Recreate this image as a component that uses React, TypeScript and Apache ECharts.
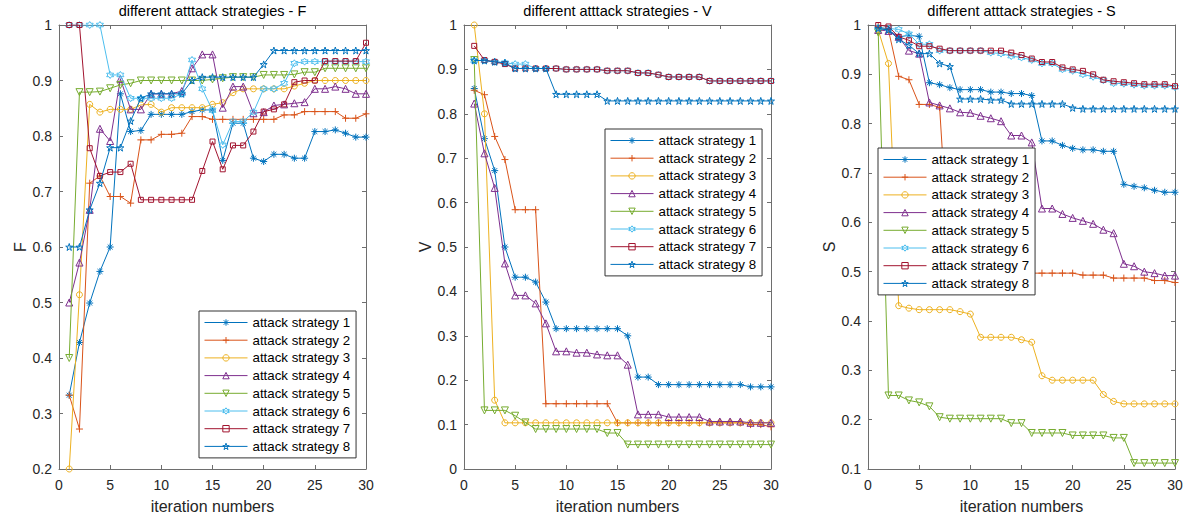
import React, { useEffect, useRef } from "react";
import * as echarts from "echarts";

const ITER = [1, 2, 3, 4, 5, 6, 7, 8, 9, 10, 11, 12, 13, 14, 15, 16, 17, 18, 19, 20, 21, 22, 23, 24, 25, 26, 27, 28, 29, 30];
const NAMES = ["attack strategy 1", "attack strategy 2", "attack strategy 3", "attack strategy 4", "attack strategy 5", "attack strategy 6", "attack strategy 7", "attack strategy 8"];
const COLORS = ["#0072BD", "#D95319", "#EDB120", "#7E2F8E", "#77AC30", "#4DBEEE", "#A2142F", "#0072BD"];
const X_TICKS = [0, 5, 10, 15, 20, 25, 30];
const TITLES = ["different atttack strategies - F", "different atttack strategies - V", "different atttack strategies - S"];
const Y_NAMES = ["F", "V", "S"];
const Y_MINS = [0.2, 0, 0.1];

// Panel F
const F1 = [0.333, 0.428, 0.499, 0.556, 0.6, 0.876, 0.808, 0.81, 0.839, 0.839, 0.839, 0.839, 0.844, 0.847, 0.847, 0.756, 0.823, 0.823, 0.76, 0.754, 0.767, 0.767, 0.76, 0.76, 0.808, 0.808, 0.811, 0.805, 0.798, 0.798];
const F2 = [0.333, 0.272, 0.715, 0.728, 0.691, 0.691, 0.679, 0.793, 0.793, 0.803, 0.803, 0.805, 0.835, 0.835, 0.83, 0.83, 0.83, 0.83, 0.83, 0.83, 0.83, 0.838, 0.838, 0.844, 0.844, 0.844, 0.844, 0.832, 0.832, 0.84];
const F3 = [0.2, 0.514, 0.857, 0.843, 0.848, 0.848, 0.848, 0.856, 0.857, 0.843, 0.851, 0.851, 0.851, 0.851, 0.857, 0.86, 0.878, 0.885, 0.885, 0.885, 0.885, 0.885, 0.89, 0.895, 0.9, 0.9, 0.9, 0.9, 0.9, 0.9];
const F4 = [0.5, 0.572, 0.667, 0.813, 0.791, 0.903, 0.848, 0.848, 0.876, 0.876, 0.876, 0.881, 0.922, 0.947, 0.947, 0.851, 0.889, 0.889, 0.841, 0.843, 0.855, 0.857, 0.859, 0.861, 0.885, 0.885, 0.889, 0.885, 0.876, 0.876];
const F5 = [0.4, 0.879, 0.879, 0.88, 0.886, 0.892, 0.895, 0.9, 0.9, 0.9, 0.9, 0.9, 0.9, 0.9, 0.902, 0.904, 0.906, 0.906, 0.906, 0.91, 0.91, 0.91, 0.911, 0.915, 0.915, 0.922, 0.922, 0.922, 0.922, 0.922];
const F6 = [1, 1, 1, 1, 0.91, 0.91, 0.868, 0.868, 0.868, 0.868, 0.868, 0.876, 0.937, 0.885, 0.846, 0.784, 0.826, 0.826, 0.843, 0.885, 0.885, 0.895, 0.931, 0.934, 0.934, 0.934, 0.934, 0.934, 0.934, 0.934];
const F7 = [1, 1, 0.778, 0.728, 0.735, 0.735, 0.75, 0.685, 0.685, 0.685, 0.685, 0.685, 0.685, 0.737, 0.79, 0.74, 0.783, 0.783, 0.808, 0.844, 0.848, 0.857, 0.897, 0.9, 0.9, 0.935, 0.935, 0.935, 0.935, 0.968];
const F8 = [0.6, 0.6, 0.667, 0.715, 0.779, 0.779, 0.827, 0.868, 0.876, 0.876, 0.876, 0.876, 0.9, 0.906, 0.906, 0.906, 0.906, 0.906, 0.906, 0.929, 0.954, 0.954, 0.954, 0.954, 0.954, 0.954, 0.954, 0.954, 0.954, 0.954];

// Panel V
const V1 = [0.857, 0.744, 0.672, 0.5, 0.432, 0.432, 0.421, 0.376, 0.316, 0.316, 0.316, 0.316, 0.316, 0.316, 0.316, 0.3, 0.207, 0.207, 0.19, 0.19, 0.19, 0.19, 0.19, 0.19, 0.19, 0.19, 0.19, 0.185, 0.185, 0.185];
const V2 = [0.853, 0.843, 0.749, 0.697, 0.584, 0.584, 0.584, 0.147, 0.147, 0.147, 0.147, 0.147, 0.147, 0.147, 0.104, 0.104, 0.104, 0.104, 0.104, 0.104, 0.104, 0.104, 0.104, 0.104, 0.104, 0.104, 0.104, 0.1, 0.1, 0.095];
const V3 = [1, 0.8, 0.155, 0.104, 0.104, 0.104, 0.104, 0.104, 0.104, 0.104, 0.104, 0.104, 0.104, 0.104, 0.104, 0.104, 0.104, 0.104, 0.104, 0.104, 0.104, 0.104, 0.104, 0.104, 0.104, 0.104, 0.104, 0.104, 0.104, 0.104];
const V4 = [0.823, 0.711, 0.633, 0.463, 0.391, 0.391, 0.373, 0.328, 0.265, 0.265, 0.262, 0.262, 0.258, 0.256, 0.256, 0.235, 0.123, 0.123, 0.123, 0.117, 0.117, 0.117, 0.117, 0.107, 0.107, 0.107, 0.107, 0.104, 0.104, 0.104];
const V5 = [0.921, 0.132, 0.132, 0.132, 0.12, 0.105, 0.09, 0.09, 0.09, 0.09, 0.09, 0.09, 0.09, 0.081, 0.081, 0.055, 0.055, 0.055, 0.055, 0.055, 0.055, 0.055, 0.055, 0.055, 0.055, 0.055, 0.055, 0.055, 0.055, 0.055];
const V6 = [0.92, 0.92, 0.917, 0.915, 0.912, 0.912, 0.902, 0.902, 0.902, 0.9, 0.9, 0.9, 0.9, 0.897, 0.897, 0.897, 0.892, 0.892, 0.888, 0.883, 0.883, 0.883, 0.883, 0.874, 0.874, 0.874, 0.874, 0.874, 0.874, 0.874];
const V7 = [0.953, 0.921, 0.917, 0.912, 0.902, 0.902, 0.902, 0.902, 0.902, 0.9, 0.9, 0.9, 0.9, 0.897, 0.897, 0.897, 0.892, 0.892, 0.888, 0.883, 0.883, 0.883, 0.883, 0.874, 0.874, 0.874, 0.874, 0.874, 0.874, 0.874];
const V8 = [0.92, 0.92, 0.917, 0.915, 0.902, 0.902, 0.902, 0.902, 0.844, 0.844, 0.844, 0.844, 0.844, 0.829, 0.829, 0.829, 0.829, 0.829, 0.829, 0.829, 0.829, 0.829, 0.829, 0.829, 0.829, 0.829, 0.829, 0.829, 0.829, 0.829];

// Panel S
const S1 = [0.993, 0.99, 0.976, 0.979, 0.977, 0.883, 0.879, 0.873, 0.869, 0.869, 0.869, 0.864, 0.864, 0.861, 0.861, 0.857, 0.765, 0.765, 0.756, 0.75, 0.747, 0.747, 0.744, 0.744, 0.677, 0.673, 0.67, 0.665, 0.661, 0.661];
const S2 = [0.997, 0.99, 0.896, 0.889, 0.839, 0.839, 0.833, 0.497, 0.497, 0.497, 0.497, 0.497, 0.497, 0.497, 0.497, 0.497, 0.497, 0.497, 0.497, 0.497, 0.493, 0.493, 0.493, 0.487, 0.487, 0.487, 0.487, 0.482, 0.482, 0.478];
const S3 = [0.99, 0.922, 0.431, 0.426, 0.423, 0.423, 0.423, 0.423, 0.419, 0.414, 0.367, 0.367, 0.367, 0.367, 0.362, 0.357, 0.289, 0.28, 0.28, 0.28, 0.28, 0.28, 0.251, 0.237, 0.232, 0.232, 0.232, 0.232, 0.232, 0.232];
const S4 = [0.99, 0.988, 0.976, 0.948, 0.942, 0.843, 0.837, 0.831, 0.823, 0.822, 0.816, 0.811, 0.805, 0.776, 0.776, 0.762, 0.628, 0.628, 0.617, 0.609, 0.603, 0.597, 0.585, 0.578, 0.516, 0.511, 0.5, 0.497, 0.492, 0.492];
const S5 = [0.985, 0.249, 0.249, 0.239, 0.235, 0.227, 0.205, 0.202, 0.202, 0.202, 0.202, 0.202, 0.202, 0.193, 0.193, 0.173, 0.173, 0.173, 0.173, 0.168, 0.168, 0.168, 0.168, 0.163, 0.163, 0.112, 0.112, 0.112, 0.112, 0.112];
const S6 = [0.995, 0.993, 0.991, 0.982, 0.961, 0.961, 0.948, 0.948, 0.948, 0.948, 0.948, 0.944, 0.942, 0.937, 0.934, 0.929, 0.922, 0.922, 0.91, 0.907, 0.9, 0.895, 0.888, 0.882, 0.881, 0.879, 0.877, 0.877, 0.877, 0.874];
const S7 = [1, 0.997, 0.976, 0.969, 0.957, 0.957, 0.952, 0.948, 0.948, 0.948, 0.948, 0.948, 0.948, 0.944, 0.939, 0.932, 0.925, 0.925, 0.914, 0.91, 0.907, 0.9, 0.889, 0.886, 0.884, 0.882, 0.88, 0.88, 0.88, 0.876];
const S8 = [0.993, 0.99, 0.971, 0.959, 0.942, 0.942, 0.922, 0.916, 0.85, 0.85, 0.85, 0.848, 0.848, 0.84, 0.84, 0.84, 0.84, 0.84, 0.84, 0.832, 0.83, 0.83, 0.83, 0.83, 0.83, 0.83, 0.83, 0.83, 0.83, 0.83];

const PANEL_DATA = [
  [F1, F2, F3, F4, F5, F6, F7, F8],
  [V1, V2, V3, V4, V5, V6, V7, V8],
  [S1, S2, S3, S4, S5, S6, S7, S8],
];

// layout (pixels)
const GRID_LEFT = [59, 464, 868];
const GRID_W = 307;
const GRID_TOP = 25;
const GRID_H = 444;
const LEGEND_POS = [
  { left: 199, top: 311 },
  { left: 605, top: 129 },
  { left: 878, top: 148 },
];

const SYMBOLS = [
  "path://M5,0L5,10M0,5L10,5M1.5,1.5L8.5,8.5M8.5,1.5L1.5,8.5",
  "path://M5,0L5,10M0,5L10,5",
  "circle",
  "triangle",
  "path://M0,0L10,0L5,10Z",
  "path://M5,0L6.443,2.5L9.33,2.5L7.887,5L9.33,7.5L6.443,7.5L5,10L3.557,7.5L0.67,7.5L2.113,5L0.67,2.5L3.557,2.5Z",
  "rect",
  "path://M5,0L6.123,3.455L9.755,3.455L6.817,5.59L7.939,9.045L5,6.91L2.061,9.045L3.183,5.59L0.245,3.455L3.877,3.455Z",
];
const SYMBOL_SIZES = [7, 7, 6, 7, 7, 7, 5, 7];

const FONT = "Liberation Sans, Arial, Helvetica, sans-serif";
const AXIS_COLOR = "#6e6e6e";
const TEXT_COLOR = "#262626";

export default function App() {
  const ref = useRef<HTMLDivElement>(null);

  useEffect(() => {
    if (!ref.current) return;
    const chart = echarts.init(ref.current, undefined, { renderer: "svg" });

    const grids: any[] = [];
    const xAxes: any[] = [];
    const yAxes: any[] = [];
    const series: any[] = [];
    const legends: any[] = [];
    const graphics: any[] = [];

    PANEL_DATA.forEach((panel, p) => {
      grids.push({ left: GRID_LEFT[p], top: GRID_TOP, width: GRID_W, height: GRID_H, containLabel: false });
      const common = {
        gridIndex: p,
        type: "value",
        axisLine: { show: true, onZero: false, lineStyle: { color: AXIS_COLOR, width: 1 } },
        axisTick: { show: true, inside: true, length: 4, lineStyle: { color: AXIS_COLOR, width: 1 } },
        splitLine: { show: false },
      };
      const xBottomIndex = xAxes.length;
      xAxes.push({
        ...common,
        position: "bottom",
        min: X_TICKS[0],
        max: X_TICKS[X_TICKS.length - 1],
        interval: 5,
        axisLabel: { fontSize: 14, color: TEXT_COLOR, margin: 9, fontFamily: FONT },
        name: "iteration numbers",
        nameLocation: "middle",
        nameGap: 29,
        nameTextStyle: { fontSize: 16, color: TEXT_COLOR, fontFamily: FONT },
      });
      xAxes.push({
        ...common,
        position: "top",
        min: X_TICKS[0],
        max: X_TICKS[X_TICKS.length - 1],
        interval: 5,
        axisLabel: { show: false },
      });
      const yLeftIndex = yAxes.length;
      yAxes.push({
        ...common,
        position: "left",
        min: Y_MINS[p],
        max: 1,
        interval: 0.1,
        axisLabel: { fontSize: 14, color: TEXT_COLOR, margin: 7, fontFamily: FONT },
        name: Y_NAMES[p],
        nameLocation: "middle",
        nameRotate: 90,
        nameGap: 31,
        nameTextStyle: { fontSize: 16, color: TEXT_COLOR, fontFamily: FONT },
      });
      yAxes.push({
        ...common,
        position: "right",
        min: Y_MINS[p],
        max: 1,
        interval: 0.1,
        axisLabel: { show: false },
      });

      panel.forEach((vals, s) => {
        series.push({
          type: "line",
          name: NAMES[s],
          xAxisIndex: xBottomIndex,
          yAxisIndex: yLeftIndex,
          data: vals.map((v, i) => [ITER[i], v]),
          symbol: SYMBOLS[s],
          symbolSize: SYMBOL_SIZES[s],
          showAllSymbol: true,
          lineStyle: { color: COLORS[s], width: 1 },
          itemStyle: { color: "rgba(255,255,255,0)", borderColor: COLORS[s], borderWidth: 1 },
          emphasis: { disabled: true },
          silent: true,
          z: 2 + s * 0.01,
        });
      });

      legends.push({
        data: NAMES,
        orient: "vertical",
        left: LEGEND_POS[p].left,
        top: LEGEND_POS[p].top,
        itemWidth: 43,
        itemHeight: 8,
        itemGap: 2.7,
        padding: [4, 6, 4, 5],
        backgroundColor: "#ffffff",
        borderColor: "#333333",
        borderWidth: 1,
        borderRadius: 0,
        selectedMode: false,
        itemStyle: { color: "rgba(255,255,255,0)", borderWidth: 1 },
        lineStyle: { width: 1 },
        textStyle: { fontSize: 13.3, lineHeight: 15, color: "#000000", fontFamily: FONT },
        z: 10,
      });

      graphics.push({
        type: "text",
        x: GRID_LEFT[p] + GRID_W / 2,
        y: 11,
        z: 10,
        style: {
          text: TITLES[p],
          fill: "#000000",
          font: `14.5px ${FONT}`,
          textAlign: "center",
          textVerticalAlign: "middle",
        },
      });
    });

    chart.setOption({
      animation: false,
      backgroundColor: "#ffffff",
      textStyle: { fontFamily: FONT },
      grid: grids,
      xAxis: xAxes,
      yAxis: yAxes,
      series,
      legend: legends,
      graphic: graphics,
    });

    return () => chart.dispose();
  }, []);

  return (
    <div
      ref={ref}
      style={{ position: "absolute", left: 0, top: 0, width: 1194, height: 519 }}
    />
  );
}
